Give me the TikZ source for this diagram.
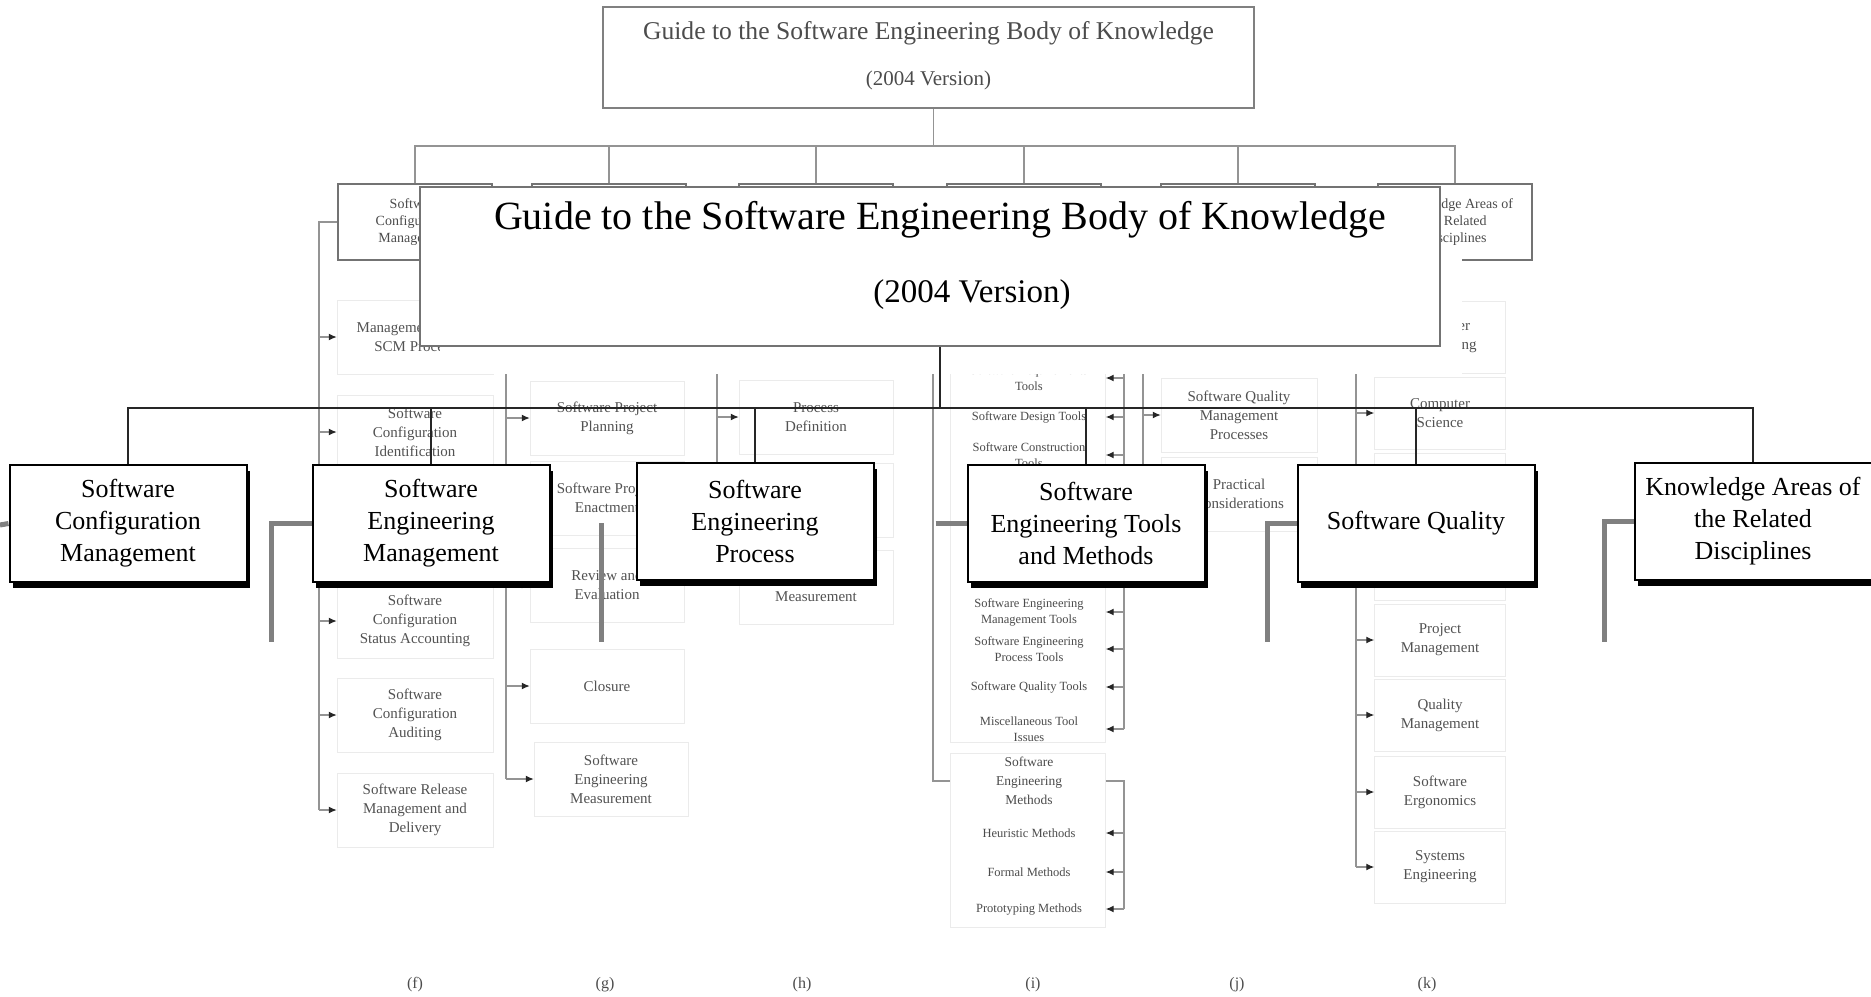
\documentclass[tikz,border=0pt]{standalone}
\usepackage{fontspec}
\setmainfont{Liberation Serif}
\usetikzlibrary{arrows.meta,shadows,calc}
\begin{document}
\begin{tikzpicture}[x=1pt,y=-1pt,
  bgline/.style={draw=black!42,line width=1.3pt},
  bgarrow/.style={draw=black!42,line width=1.3pt,-{Latex[length=8pt,width=7pt,color=black!85]}},
  bgtxt/.style={inner sep=0pt,align=center,text=black!70},
  lvone/.style={draw=black!50,line width=1.5pt,fill=white,minimum width=651pt,minimum height=101pt,inner sep=0pt},
  lvtwo/.style={draw=black!55,line width=1.5pt,fill=white,minimum width=154pt,minimum height=76pt,inner sep=0pt,align=center,font=\fontsize{14}{17}\selectfont,text=black!70},
  item/.style={draw=black!8,fill=white,minimum width=156pt,minimum height=74pt,inner sep=0pt,align=center,font=\fontsize{15}{19}\selectfont,text=black!68},
  kitem/.style={item,minimum width=131pt,minimum height=72pt},
  faint/.style={draw=black!8,fill=white,inner sep=0pt},
  tool/.style={inner sep=0pt,align=center,font=\fontsize{12.5}{16}\selectfont,text=black!70},
  fgbox/.style={draw=black,line width=2pt,fill=white,minimum width=237pt,minimum height=117pt,inner sep=0pt,align=center,font=\fontsize{26}{32}\selectfont,drop shadow={shadow xshift=3pt,shadow yshift=-6pt,fill=black,opacity=1}},
  fgline/.style={draw=black!85,line width=2.2pt},
  stub/.style={draw=black!50,line width=5pt},
  figlab/.style={inner sep=0pt,font=\fontsize{16}{19}\selectfont,text=black!70}
]
\useasboundingbox (0,0) rectangle (1871,996);
\fill[white] (0,0) rectangle (1871,996);

% ---------------- background diagram ----------------
\node[lvone] (top) at (928.5,57.5) {};
\node[bgtxt,font=\fontsize{25.6}{30}\selectfont] (topA) at (928.5,33) {Guide to the Software Engineering Body of Knowledge};
\node[bgtxt,font=\fontsize{21}{25}\selectfont] (topB) at (928.5,80) {(2004 Version)};
\coordinate (bgbus) at (0,146);

\node[lvtwo] (bscm) at (415,222) {Software\\Configuration\\Management};
\node[lvtwo] (bsem) at (609,222) {};
\node[lvtwo] (bsep) at (816,222) {};
\node[lvtwo] (bsetm) at (1024,222) {};
\node[lvtwo] (bsq) at (1238,222) {};
\node[lvtwo] (bka) at (1455,222) {Knowledge Areas of\\the Related\\Disciplines};

\draw[bgline] ($(top.south)+(5,0)$) -- ($(top.south |- bgbus)+(5,0)$);
\draw[bgline] (bscm.north) -- (bscm.north |- bgbus) -- (bka.north |- bgbus) -- (bka.north);
\foreach \n in {bsem,bsep,bsetm,bsq} \draw[bgline] (\n.north) -- (\n.north |- bgbus);

% (f) SCM
\coordinate (fcol) at (319,0);
\node[item] (f1) at (415,337) {Management of the\\SCM Process};
\node[item] (f2) at (415,432) {Software\\Configuration\\Identification};
\node[item] (f3) at (415,527) {};
\node[item] (f4) at (415,621) {Software\\Configuration\\Status Accounting};
\node[item] (f5) at (415,715) {Software\\Configuration\\Auditing};
\node[item] (f6) at (415,810) {Software Release\\Management and\\Delivery};
\draw[bgline] (bscm.west) -| (fcol |- f6.west);
\foreach \n in {f1,f2,f3,f4,f5,f6} \draw[bgarrow] (fcol |- \n.west) -- (\n.west);

% (g) SEM
\coordinate (gcol) at (506,0);
\node[item,minimum width=154pt] (g1) at (607,330) {};
\node[item,minimum width=154pt] (g2) at (607,418) {Software Project\\Planning};
\node[item,minimum width=154pt] (g3) at (607,498) {Software Project\\Enactment};
\node[item,minimum width=154pt] (g4) at (607,585) {Review and\\Evaluation};
\node[item,minimum width=154pt] (g5) at (607,686) {Closure};
\node[item,minimum width=154pt] (g6) at (611,779) {Software\\Engineering\\Measurement};
\draw[bgline] (bsem.west) -| (gcol |- g6.west);
\foreach \n in {g1,g2,g3,g4,g5,g6} \draw[bgarrow] (gcol |- \n.west) -- (\n.west);

% (h) SEP
\coordinate (hcol) at (717,0);
\node[item,minimum width=154pt] (h1) at (816,330) {};
\node[item,minimum width=154pt] (h2) at (816,417) {Process\\Definition};
\node[item,minimum width=154pt] (h3) at (816,500) {};
\node[item,minimum width=154pt] (h4) at (816,587) {Product and Process\\Measurement};
\draw[bgline] (bsep.west) -| ($(hcol |- h4.west)+(0,-10)$);
\foreach \n in {h1,h2,h3} \draw[bgarrow] (hcol |- \n.west) -- (\n.west);
\draw[bgarrow] ($(hcol |- h4.west)+(0,-10)$) -- ($(h4.west)+(0,-10)$);

% (i) SETM
\coordinate (icol) at (933,0);
\coordinate (ircol) at (1124,0);
\node[faint,minimum width=155pt,minimum height=384pt] (tbox) at (1028,550) {};
\node[faint,minimum width=155pt,minimum height=174pt] (mbox) at (1028,840) {};
\node[tool] (t1) at (1029,378) {Software Requirements\\Tools};
\node[tool] (t2) at (1029,417) {Software Design Tools};
\node[tool] (t3) at (1029,455) {Software Construction\\Tools};
\coordinate (t4) at (1029,493);
\coordinate (t5) at (1029,531);
\coordinate (t6) at (1029,572);
\node[tool] (t7) at (1029,612) {Software Engineering\\Management Tools};
\node[tool] (t8) at (1029,649) {Software Engineering\\Process Tools};
\node[tool] (t9) at (1029,687) {Software Quality Tools};
\node[tool] (t10) at (1029,729) {Miscellaneous Tool\\Issues};
\node[tool,font=\fontsize{13.5}{19}\selectfont] (m0) at (1029,781) {Software\\Engineering\\Methods};
\node[tool] (m1) at (1029,833) {Heuristic Methods};
\node[tool] (m2) at (1029,872) {Formal Methods};
\node[tool] (m3) at (1029,909) {Prototyping Methods};
\draw[bgline] (bsetm.west) -| (icol |- m0) -- (mbox.west |- m0);
\draw[bgline] (bsetm.east) -| (ircol |- t10);
\foreach \n in {t1,t2,t3,t4,t5,t6,t7,t8,t9,t10} \draw[bgarrow] (ircol |- \n) -- (tbox.east |- \n);
\draw[bgline] (mbox.east |- m0) -| (ircol |- m3);
\foreach \n in {m1,m2,m3} \draw[bgarrow] (ircol |- \n) -- (mbox.east |- \n);

% (j) SQ
\coordinate (jcol) at (1143,0);
\node[item] (j1) at (1239,330) {};
\node[item] (j2) at (1239,415) {Software Quality\\Management\\Processes};
\node[item] (j3) at (1239,494) {Practical\\Considerations};
\draw[bgline] (bsq.west) -| (jcol |- j3.west);
\foreach \n in {j1,j2,j3} \draw[bgarrow] (jcol |- \n.west) -- (\n.west);

% (k) KA
\coordinate (kcol) at (1356,0);
\node[kitem] (k1) at (1440,337) {Computer\\Engineering};
\node[kitem] (k2) at (1440,413) {Computer\\Science};
\node[kitem] (k3) at (1440,489) {};
\node[kitem] (k4) at (1440,564) {};
\node[kitem] (k5) at (1440,640) {Project\\Management};
\node[kitem] (k6) at (1440,715) {Quality\\Management};
\node[kitem] (k7) at (1440,792) {Software\\Ergonomics};
\node[kitem] (k8) at (1440,867) {Systems\\Engineering};
\draw[bgline] (bka.west) -| (kcol |- k8.west);
\foreach \n in {k1,k2,k3,k4,k5,k6,k7,k8} \draw[bgarrow] (kcol |- \n.west) -- (\n.west);

% figure labels
\node[figlab] (lf) at (415,985) {(f)};
\node[figlab] (lg) at (605,985) {(g)};
\node[figlab] (lh) at (802,985) {(h)};
\node[figlab] (li) at (1033,985) {(i)};
\node[figlab] (lj) at (1237,985) {(j)};
\node[figlab] (lk) at (1427,985) {(k)};

% ---------------- foreground diagram ----------------
\fill[white] (440,255) rectangle (1462,374);
\node[draw=black!55,line width=1.5pt,fill=white,minimum width=1020pt,minimum height=159pt,inner sep=0pt] (title) at (930,266.5) {};
\node[inner sep=0pt,font=\fontsize{40}{48}\selectfont] (titleA) at (940,220) {Guide to the Software Engineering Body of Knowledge};
\node[inner sep=0pt,font=\fontsize{33}{40}\selectfont] (titleB) at (972,295) {(2004 Version)};

\coordinate (fbus) at (0,408);
\node[fgbox] (scm) at (128,523.5) {Software\\Configuration\\Management};
\node[fgbox] (sem) at (431,523.5) {Software\\Engineering\\Management};
\node[fgbox] (sep) at (755,521.5) {Software\\Engineering\\Process};
\node[fgbox] (setm) at (1086,523.5) {Software\\Engineering Tools\\and Methods};
\node[fgbox] (sq) at (1416,523.5) {Software Quality};
\node[fgbox] (ka) at (1753,521.5) {Knowledge Areas of\\the Related\\Disciplines};

\draw[fgline] ($(title.south)+(10,0)$) -- ($(title.south |- fbus)+(10,0)$);
\draw[fgline] (scm.north) -- (scm.north |- fbus) -- (ka.north |- fbus) -- (ka.north);
\foreach \n in {sem,sep,setm,sq} \draw[fgline] (\n.north) -- (\n.north |- fbus);

% grey stubs
\coordinate (s0) at (0,525);
\draw[stub] (s0) -- (scm.west);
\draw[stub] ($(sem.west)+(-40,118)$) |- (sem.west);
\coordinate (sepA) at (601,523);
\coordinate (sepB) at (601,642);
\draw[stub] (sepA) -- (sepB);
\draw[stub] ($(setm.west)+(-31,0)$) -- (setm.west);
\draw[stub] ($(sq.west)+(-29,118)$) |- (sq.west);
\draw[stub] ($(ka.west)+(-29,120)$) |- (ka.west);
\end{tikzpicture}
\end{document}
